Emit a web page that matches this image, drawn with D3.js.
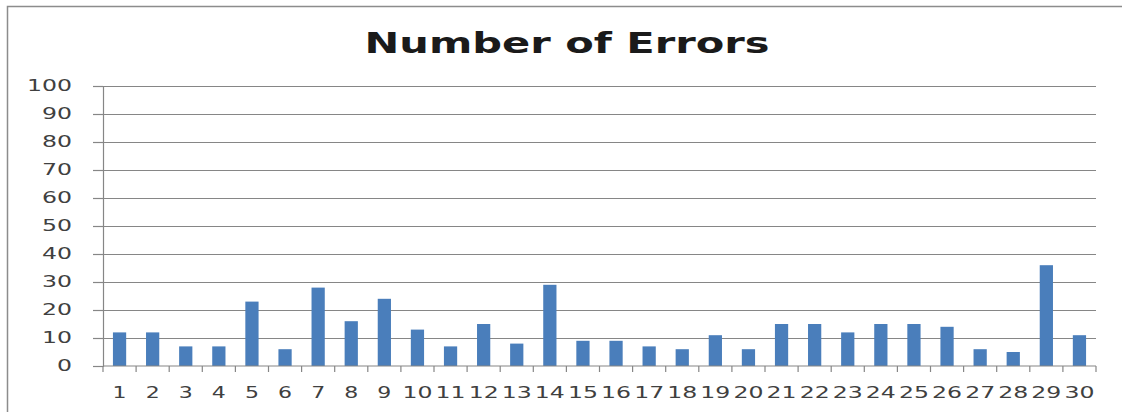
<!DOCTYPE html>
<html>
<head>
<meta charset="utf-8">
<script src="https://cdn.jsdelivr.net/npm/d3@7"></script>
<style>
  body { margin: 0; background: #fff; overflow: hidden; }
  svg { display: block; }
  .axis text { font-family: "DejaVu Sans", sans-serif; font-size: 15px; fill: #404040; }
</style>
</head>
<body>
<div id="chart"></div>
<script>
// chart data
var title = "Number of Errors";
var categories = d3.range(1, 31).map(String);
var errors = [12, 12, 7, 7, 23, 6, 28, 16, 24, 13, 7, 15, 8, 29, 9,
              9, 7, 6, 11, 6, 15, 15, 12, 15, 15, 14, 6, 5, 36, 11];
var yTicks = [0, 10, 20, 30, 40, 50, 60, 70, 80, 90, 100];

var width = 1122, height = 412;
var margin = {top: 86, right: 26, bottom: 46, left: 103};

var svg = d3.select("#chart").append("svg")
    .attr("width", width)
    .attr("height", height);

// outer chart frame (only left and top edges are inside the picture)
svg.append("path")
    .attr("d", "M7.5," + height + "V6.5H" + width)
    .attr("fill", "none")
    .attr("stroke", "#8c8c8c")
    .attr("stroke-width", 1.5);

// scales
var x = d3.scaleBand()
    .domain(categories)
    .range([margin.left, width - margin.right])
    .paddingInner(0.6)
    .paddingOuter(0.3);

var xBounds = d3.scaleLinear()
    .domain([0, categories.length])
    .range([margin.left, width - margin.right]);

var y = d3.scaleLinear()
    .domain([0, 100])
    .range([height - margin.bottom, margin.top]);

// title
svg.append("text")
    .attr("x", 567)
    .attr("y", 53)
    .attr("text-anchor", "middle")
    .attr("textLength", 405)
    .attr("lengthAdjust", "spacingAndGlyphs")
    .style("font-family", "'DejaVu Sans', sans-serif")
    .style("font-weight", "bold")
    .style("font-size", "28px")
    .style("fill", "#1a1a1a")
    .text(title);

// y axis
var yAxis = svg.append("g")
    .attr("class", "axis")
    .attr("transform", "translate(" + margin.left + ",0)")
    .call(d3.axisLeft(y).tickValues(yTicks).tickSize(10).tickPadding(21));

yAxis.select(".domain").attr("stroke", "#868686").attr("stroke-width", 1.2);
yAxis.selectAll(".tick line").attr("stroke", "#868686").attr("stroke-width", 1.2);
yAxis.selectAll(".tick text")
    .attr("textLength", function(d) { return String(d).length * 15; })
    .attr("lengthAdjust", "spacingAndGlyphs");

// gridlines
svg.append("g")
    .selectAll("line")
    .data(yTicks.filter(function(d) { return d > 0; }))
    .enter().append("line")
    .attr("x1", margin.left)
    .attr("x2", width - margin.right)
    .attr("y1", function(d) { return Math.round(y(d)) + 0.5; })
    .attr("y2", function(d) { return Math.round(y(d)) + 0.5; })
    .attr("stroke", "#868686")
    .attr("stroke-width", 1.2);

// bars
svg.append("g")
    .selectAll("rect")
    .data(errors)
    .enter().append("rect")
    .attr("x", function(d, i) { return x(categories[i]); })
    .attr("width", x.bandwidth())
    .attr("y", function(d) { return y(d); })
    .attr("height", function(d) { return y(0) - y(d); })
    .attr("fill", "#4a7ebb");

// x axis: ticks between categories
var xAxis = svg.append("g")
    .attr("class", "axis")
    .attr("transform", "translate(0," + y(0) + ")");

xAxis.append("line")
    .attr("x1", margin.left)
    .attr("x2", width - margin.right)
    .attr("stroke", "#868686")
    .attr("stroke-width", 1.2);

xAxis.selectAll(".tk")
    .data(d3.range(0, categories.length + 1))
    .enter().append("line")
    .attr("class", "tk")
    .attr("x1", function(d) { return xBounds(d); })
    .attr("x2", function(d) { return xBounds(d); })
    .attr("y1", 0)
    .attr("y2", 6)
    .attr("stroke", "#868686")
    .attr("stroke-width", 1.2);

xAxis.selectAll(".lbl")
    .data(categories)
    .enter().append("text")
    .attr("class", "lbl")
    .attr("x", function(d) { return x(d) + x.bandwidth() / 2; })
    .attr("y", 32)
    .attr("text-anchor", "middle")
    .attr("textLength", function(d) { return d.length * 16 - 2; })
    .attr("lengthAdjust", "spacingAndGlyphs")
    .text(function(d) { return d; });
</script>
</body>
</html>
